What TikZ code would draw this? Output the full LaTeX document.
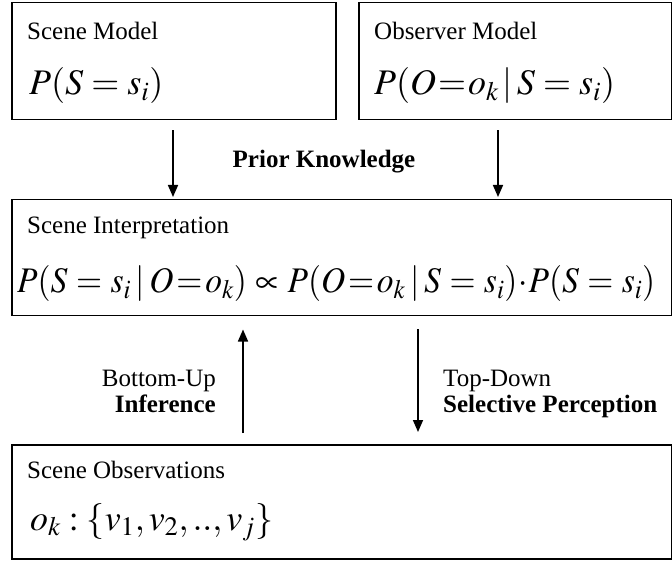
\documentclass[tikz,border=0pt]{standalone}
\usepackage{graphicx}
\usepackage{mathptmx}
\usepackage{fontspec}
\setmainfont{Liberation Serif}
\usetikzlibrary{arrows.meta}
\newcommand{\oeq}{\mathrel{\mkern-3mu=\mkern-3mu}}
\newcommand{\gv}{\mathrel{\mkern-2mu|\mkern-2mu}}
\newcommand{\tdot}{\mathbin{\mkern-2mu\cdot\mkern-2mu}}
\begin{document}
\begin{tikzpicture}[x=1pt,y=-1pt,
  box/.style={draw, line width=1.5pt, inner sep=0pt, anchor=north west},
  ttl/.style={anchor=base west, inner sep=0pt, font=\fontsize{25}{30}\selectfont},
  eq/.style={anchor=base west, inner sep=0pt, font=\fontsize{36}{40}\selectfont},
  lbl/.style={inner sep=0pt, font=\fontsize{25}{30}\selectfont},
  arr/.style={line width=1.6pt, -{Triangle[length=12pt,width=10pt]}}]
\useasboundingbox (0,0) rectangle (672,561);
% boxes
\node[box, minimum width=324pt, minimum height=117pt] (sm) at (11,2) {};
\node[box, minimum width=312.5pt, minimum height=117pt] (om) at (358,2) {};
\node[box, minimum width=659.5pt, minimum height=116pt] (si) at (11,199) {};
\node[box, minimum width=659.5pt, minimum height=114pt] (so) at (11,444) {};
% texts in boxes
\node[ttl] (smt) at (27,40) {Scene Model};
\node[eq] (sme) at (29,95) {$P(S=s_i)$};
\node[ttl] (omt) at (374,40) {Observer Model};
\node[eq] (ome) at (374,95) {$P(O\oeq o_k\gv S=s_i)$};
\node[ttl] (sit) at (27,234) {Scene Interpretation};
\node[eq] (sie) at (17,293) {\resizebox{638pt}{\height}{\thickmuskip=4.5mu$P(S=s_i\gv O\oeq o_k)\propto P(O\oeq o_k\gv S=s_i)\tdot P(S=s_i)$}};
\node[ttl] (sot) at (27,478) {Scene Observations};
\node[eq] (soe) at (30,530) {$o_k:\{v_1,v_2,..,v_j\}$};
% arrow columns
\coordinate (c1) at (173,0);
\coordinate (c2) at (498,0);
\coordinate (c3) at (243,0);
\coordinate (c4) at (418,0);
\draw[arr] ([yshift=-10pt]sm.south -| c1) -- ([yshift=2pt]si.north -| c1);
\draw[arr] ([yshift=-10pt]om.south -| c2) -- ([yshift=2pt]si.north -| c2);
\draw[arr] ([yshift=11pt]so.north -| c3) -- ([yshift=-13pt]si.south -| c3);
\draw[arr] ([yshift=-13pt]si.south -| c4) -- ([yshift=12pt]so.north -| c4);
% labels
\node[lbl, font=\fontsize{25}{30}\selectfont\bfseries] (pk) at (324,162) {Prior Knowledge};
\node[lbl, anchor=base east] (bu) at (216,386) {Bottom-Up};
\node[lbl, anchor=base east, font=\fontsize{25}{30}\selectfont\bfseries] (inf) at (216,412) {Inference};
\node[lbl, anchor=base west] (td) at (443,386) {Top-Down};
\node[lbl, anchor=base west, font=\fontsize{25}{30}\selectfont\bfseries] (sp) at (443,412) {Selective Perception};
\end{tikzpicture}
\end{document}
